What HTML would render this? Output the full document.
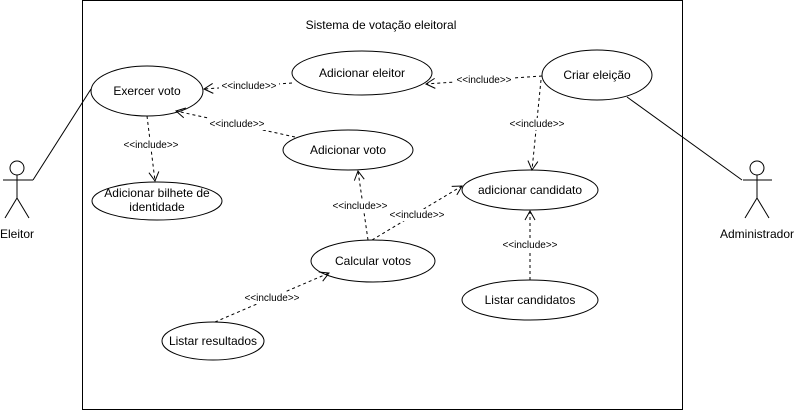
<!DOCTYPE html>
<html><head><meta charset="utf-8"><style>
html,body{margin:0;padding:0;background:#fff;}
svg{display:block;font-family:"Liberation Sans",Arial,sans-serif;}
</style></head><body>
<svg width="795" height="411" viewBox="0 0 795 411" xmlns="http://www.w3.org/2000/svg">
<defs>
<marker id="a" markerWidth="12" markerHeight="12" refX="10" refY="6" orient="auto" markerUnits="userSpaceOnUse">
<path d="M1,1 L10,6 L1,11" fill="none" stroke="#000" stroke-width="1"/>
</marker>
</defs>
<rect x="82.5" y="0.5" width="600" height="409" fill="#fff" stroke="#000"/>
<text x="381" y="29" font-size="12" text-anchor="middle">Sistema de votação eleitoral</text>

<g fill="#fff" stroke="#000">
<ellipse cx="147" cy="91" rx="56" ry="25"/>
<ellipse cx="362" cy="73" rx="70" ry="22"/>
<ellipse cx="597" cy="75" rx="55" ry="25"/>
<ellipse cx="348" cy="150" rx="65" ry="20"/>
<ellipse cx="157" cy="201" rx="65" ry="19"/>
<ellipse cx="530" cy="190" rx="68" ry="20"/>
<ellipse cx="373" cy="261" rx="62" ry="21"/>
<ellipse cx="530" cy="300" rx="68" ry="20"/>
<ellipse cx="213" cy="341" rx="51" ry="19"/>
</g>
<g font-size="12" text-anchor="middle">
<text x="147" y="95">Exercer voto</text>
<text x="362" y="77">Adicionar eleitor</text>
<text x="597" y="79">Criar eleição</text>
<text x="348" y="154">Adicionar voto</text>
<text x="157" y="197">Adicionar bilhete de</text>
<text x="157" y="211">identidade</text>
<text x="530" y="194">adicionar candidato</text>
<text x="373" y="265">Calcular votos</text>
<text x="530" y="304">Listar candidatos</text>
<text x="213" y="345">Listar resultados</text>
</g>

<g stroke="#000" fill="none">
<circle cx="17" cy="168" r="7"/>
<line x1="17" y1="175" x2="17" y2="198"/>
<line x1="3" y1="180" x2="33" y2="180"/>
<line x1="17" y1="198" x2="5" y2="218"/>
<line x1="17" y1="198" x2="29" y2="218"/>
<polyline points="33,180 91,89"/>
<circle cx="757" cy="168" r="7"/>
<line x1="757" y1="175" x2="757" y2="198"/>
<line x1="743" y1="180" x2="772" y2="180"/>
<line x1="757" y1="198" x2="745" y2="218"/>
<line x1="757" y1="198" x2="769" y2="218"/>
<polyline points="627,97 742,180"/>
</g>
<g font-size="12" text-anchor="middle">
<text x="17" y="238">Eleitor</text>
<text x="757" y="238">Administrador</text>
</g>

<g stroke="#000" fill="none" stroke-dasharray="3,3" marker-end="url(#a)">
<line x1="292" y1="83" x2="204" y2="89"/>
<line x1="295" y1="137" x2="176" y2="111"/>
<line x1="147" y1="116" x2="155" y2="181"/>
<line x1="542" y1="76" x2="426" y2="84"/>
<line x1="541" y1="80" x2="532" y2="170"/>
<line x1="368" y1="240" x2="358" y2="171"/>
<line x1="372" y1="240" x2="462" y2="186"/>
<line x1="530" y1="280" x2="530" y2="211"/>
<line x1="215" y1="322" x2="329" y2="273"/>
</g>
<g font-size="10" text-anchor="middle">
<g fill="#fff">
<rect x="219" y="80" width="60" height="12"/>
<rect x="207" y="118" width="60" height="12"/>
<rect x="121" y="139" width="60" height="12"/>
<rect x="454" y="74" width="60" height="12"/>
<rect x="507" y="118" width="60" height="12"/>
<rect x="330" y="200" width="60" height="12"/>
<rect x="387" y="209" width="60" height="12"/>
<rect x="500" y="239" width="60" height="12"/>
<rect x="242" y="292" width="60" height="12"/>
</g>
<text x="249" y="89">&lt;&lt;include&gt;&gt;</text>
<text x="237" y="127">&lt;&lt;include&gt;&gt;</text>
<text x="151" y="148">&lt;&lt;include&gt;&gt;</text>
<text x="484" y="83">&lt;&lt;include&gt;&gt;</text>
<text x="537" y="127">&lt;&lt;include&gt;&gt;</text>
<text x="360" y="209">&lt;&lt;include&gt;&gt;</text>
<text x="417" y="218">&lt;&lt;include&gt;&gt;</text>
<text x="530" y="248">&lt;&lt;include&gt;&gt;</text>
<text x="272" y="301">&lt;&lt;include&gt;&gt;</text>
</g>
</svg>
</body></html>
